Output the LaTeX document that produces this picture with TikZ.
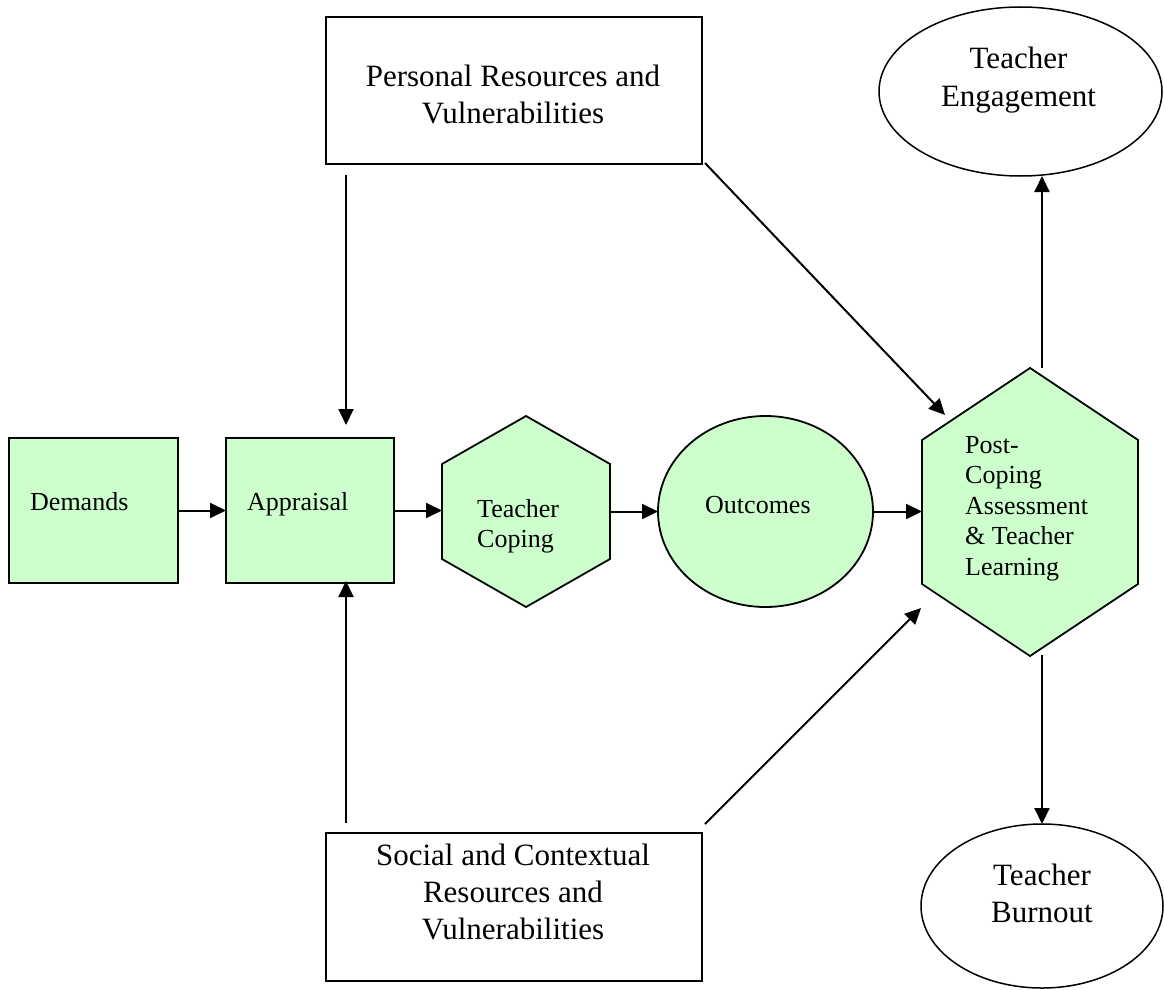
\documentclass[tikz,border=0pt]{standalone}
\usepackage{fontspec}
\setmainfont{Liberation Serif}
\usetikzlibrary{arrows.meta,shapes.geometric,calc}
\definecolor{lgreen}{HTML}{CCFFCC}
\newcommand\mlines[2]{\begin{tabular}[t]{@{}#1@{}}#2\end{tabular}}
\begin{document}
\begin{tikzpicture}[x=1pt,y=-1pt,
  gbox/.style={draw, line width=1.8pt, fill=lgreen, inner sep=0pt, outer sep=0pt, line join=miter},
  wbox/.style={draw, line width=2pt, inner sep=0pt, outer sep=0pt},
  wellip/.style={draw, ellipse, line width=1.5pt, inner sep=0pt, outer sep=0pt},
  gellip/.style={draw, ellipse, line width=1.8pt, fill=lgreen, inner sep=0pt, outer sep=0pt},
  ghex/.style={draw, line width=1.8pt, fill=lgreen, line join=miter},
  frame/.style={inner sep=0pt, outer sep=0pt},
  arr/.style={-{Triangle[length=16pt,width=15pt]}, line width=2pt},
  stxt/.style={font=\fontsize{26}{30.5}\selectfont, inner sep=0pt, anchor=base west},
  btxt/.style={font=\fontsize{31}{37}\selectfont, inner sep=0pt, anchor=base}]
\useasboundingbox (0,0) rectangle (1164,990);

% white boxes and ellipses
\node[wbox, minimum width=376pt, minimum height=147pt] (personal) at (514,90.5) {};
\node[wbox, minimum width=376pt, minimum height=148pt] (social) at (514,907) {};
\node[wellip, minimum width=283pt, minimum height=169pt] (engage) at (1020.5,91.5) {};
\node[wellip, minimum width=242pt, minimum height=164pt] (burnout) at (1042,906) {};

% green shapes
\node[gbox, minimum width=169pt, minimum height=145pt] (demands) at (93.5,510.5) {};
\node[gbox, minimum width=168pt, minimum height=145pt] (appraisal) at (310,510.5) {};
\node[frame, minimum width=168pt, minimum height=191pt] (coping) at (526,511.5) {};
\draw[ghex] (526,416) -- (610,464) -- (610,559) -- (526,607) -- (442,559) -- (442,464) -- cycle;
\node[gellip, minimum width=215pt, minimum height=191pt] (outcomes) at (765.5,511.5) {};
\node[frame, minimum width=216pt, minimum height=288pt] (post) at (1030,512) {};
\draw[ghex] (1030,368) -- (1138,440) -- (1138,584) -- (1030,656) -- (922,584) -- (922,440) -- cycle;

% texts
\node[stxt] (tdem) at (30,510) {Demands};
\node[stxt] (tapp) at (247,510) {Appraisal};
\node[stxt] (tcop) at (477,517) {\mlines{l}{Teacher\\Coping}};
\node[stxt] (tout) at (705,513) {Outcomes};
\node[stxt] (tpost) at (965,453) {\mlines{l}{Post-\\Coping\\Assessment\\\& Teacher\\Learning}};
\node[btxt] (tpers) at (513,86) {\mlines{c}{Personal Resources and\\Vulnerabilities}};
\node[btxt] (tsoc) at (513,865) {\mlines{c}{Social and Contextual\\Resources and\\Vulnerabilities}};
\node[btxt] (teng) at (1018.5,69) {\mlines{c}{Teacher\\Engagement}};
\node[btxt] (tbur) at (1042,885) {\mlines{c}{Teacher\\Burnout}};

% connectors
\coordinate (pdown) at ($(personal.south)+(-168,11)$);
\draw[arr, shorten >=13pt] (pdown) -- (pdown |- appraisal.north);
\coordinate (sup1) at ($(social.north)+(-168,-10)$);
\draw[arr, shorten >=-2pt] (sup1) -- (sup1 |- appraisal.south);
\draw[arr] (demands.east) -- (demands.east -| appraisal.west);
\draw[arr] (appraisal.east) -- (appraisal.east -| coping.west);
\draw[arr] (coping.east) -- (coping.east -| outcomes.west);
\draw[arr] (outcomes.east) -- (outcomes.east -| post.west);
\draw[arr] ($(personal.south east)+(3,-1)$) -- ($(post.north west)+(23,47)$);
\draw[arr] ($(social.north east)+(3,-9)$) -- ($(post.south west)+(-1,-48)$);
\coordinate (pn) at ($(post.north)+(12,0)$);
\draw[arr] (pn) -- (pn |- engage.south);
\coordinate (pso) at ($(post.south)+(12,-1)$);
\draw[arr] (pso) -- (pso |- burnout.north);
\end{tikzpicture}
\end{document}
